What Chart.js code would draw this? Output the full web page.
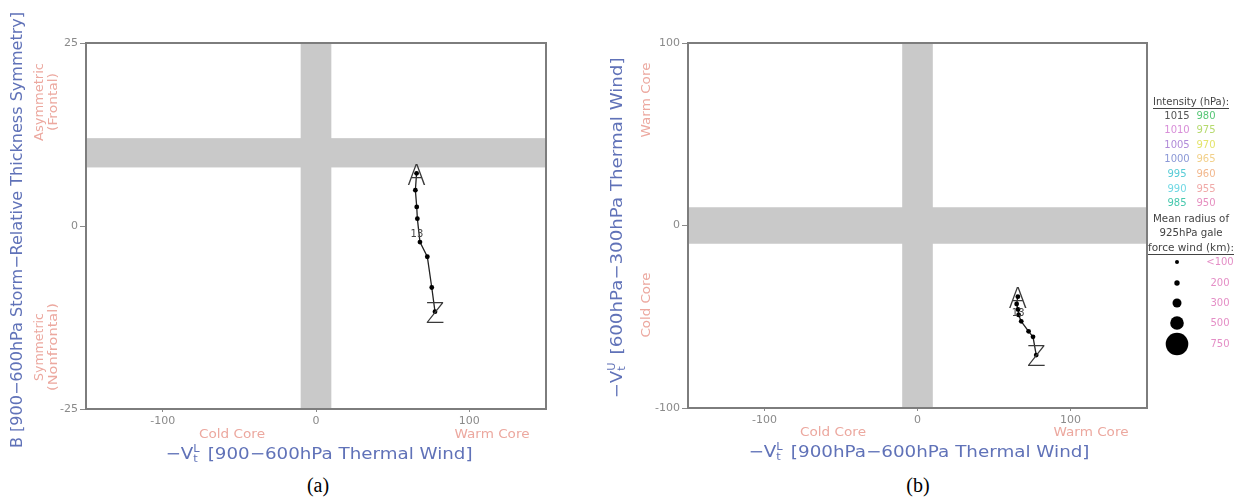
<!DOCTYPE html>
<html>
<head>
<meta charset="utf-8">
<script src="https://cdn.jsdelivr.net/npm/chart.js@4.4.1/dist/chart.umd.min.js"></script>
<style>
html,body{margin:0;padding:0;background:#fff;}
#wrap{position:relative;width:1241px;height:502px;overflow:hidden;}
#ca{position:absolute;left:0;top:0;}
#cb{position:absolute;left:600px;top:0;}
.cap{position:absolute;top:474px;line-height:24px;font:20px "Liberation Serif",serif;color:#000;transform:translateX(-50%);}
</style>
</head>
<body>
<div id="wrap">
  <canvas id="ca" width="600" height="470"></canvas>
  <canvas id="cb" width="641" height="470"></canvas>
  <div class="cap" style="left:318px">(a)</div>
  <div class="cap" style="left:918px">(b)</div>
</div>
<script>
// track values (A = first point, Z = last)
const vtLower = [65.6, 64.8, 65.7, 66.1, 67.8, 72.6, 75.5, 77.6];
const bSym    = [7.2, 4.9, 2.6, 1.0, -2.2, -4.2, -8.4, -11.7];
const vtUpper = [-39, -43, -46, -49, -52.5, -58, -61, -71];
const trackMarks = ['A', '', '', '', '13', '', '', 'Z'];

const xTicks = [-100, 0, 100];
const bTicks = [-25, 0, 25];
const uTicks = [-100, 0, 100];

// shaded threshold bands
const xBand = [-10, 10];
const bBand = [8, 12];
const uBand = [-10, 10];

// legend
const intensLeft  = ['1015', '1010', '1005', '1000', '995', '990', '985'];
const intensRight = ['980', '975', '970', '965', '960', '955', '950'];
const radiusLabels = ['<100', '200', '300', '500', '750'];

const BLUE = '#6072b8';
const SALMON = '#eca89f';
const TICK = '#8a8a8a';

function txt(ctx, s, x, y, o) {
    ctx.save();
    ctx.translate(x, y);
    if (o.rot) ctx.rotate(-Math.PI / 2);
    ctx.font = o.font;
    ctx.fillStyle = o.color;
    ctx.textAlign = o.align || 'center';
    ctx.textBaseline = 'middle';
    if (o.w) {
        const m = ctx.measureText(s).width;
        ctx.scale(o.w / m, 1);
    }
    ctx.fillText(s, 0, 0);
    ctx.restore();
}

// "-V_t^X [....]" axis title
function vtTitle(ctx, sup, rest, x, y, w, rot) {
    const big = '16px "DejaVu Sans"', small = '10px "DejaVu Sans"';
    ctx.save();
    ctx.translate(x, y);
    if (rot) ctx.rotate(-Math.PI / 2);
    ctx.font = big;
    const w1 = ctx.measureText('\u2212V').width;
    const w3 = ctx.measureText(rest).width;
    ctx.font = small;
    const w2 = Math.max(ctx.measureText('t').width, ctx.measureText(sup).width) + 2;
    const tot = w1 + w2 + w3;
    ctx.scale(w / tot, 1);
    ctx.fillStyle = BLUE;
    ctx.textAlign = 'left';
    ctx.textBaseline = 'middle';
    let cx = -tot / 2;
    ctx.font = big; ctx.fillText('\u2212V', cx, 0); cx += w1;
    ctx.font = small; ctx.fillText('t', cx, 4); ctx.fillText(sup, cx, -6); cx += w2;
    ctx.font = big; ctx.fillText(rest, cx, 0);
    ctx.restore();
}

function makeDecor(yBand, drawText) {
    return {
        id: 'decor',
        beforeDatasetsDraw(chart) {
            const {ctx, chartArea: a, scales: {x, y}} = chart;
            ctx.save();
            ctx.fillStyle = '#c9c9c9';
            const x0 = x.getPixelForValue(xBand[0]), x1 = x.getPixelForValue(xBand[1]);
            ctx.fillRect(x0, a.top, x1 - x0, a.bottom - a.top);
            const y0 = y.getPixelForValue(yBand[1]), y1 = y.getPixelForValue(yBand[0]);
            ctx.fillRect(a.left, y0, a.right - a.left, y1 - y0);
            ctx.strokeStyle = '#7d7d7d';
            ctx.lineWidth = 2;
            ctx.strokeRect(a.left, a.top, a.right - a.left, a.bottom - a.top);
            ctx.restore();
        },
        afterDatasetsDraw(chart) {
            const ctx = chart.ctx;
            const pts = chart.getDatasetMeta(0).data;
            trackMarks.forEach((m, i) => {
                if (!m) return;
                const p = pts[i];
                if (m === 'A' || m === 'Z') {
                    txt(ctx, m, p.x, p.y + 4, {font: '200 28px "DejaVu Sans"', color: '#3a3a3a'});
                } else {
                    txt(ctx, m, p.x - 3, p.y - 8, {font: '10px "DejaVu Sans"', color: '#444'});
                }
            });
        },
        afterDraw(chart) {
            drawText(chart.ctx);
        }
    };
}

function xAxis() {
    return {
        type: 'linear', min: -150, max: 150,
        afterBuildTicks: s => { s.ticks = xTicks.map(v => ({value: v})); },
        afterFit: s => { s.height = 30; },
        grid: {drawOnChartArea: false, tickLength: 3, color: TICK},
        border: {display: false},
        ticks: {font: {family: 'DejaVu Sans', size: 11}, color: TICK, padding: 3, maxRotation: 0}
    };
}

function yAxis(min, max, ticks) {
    return {
        type: 'linear', min: min, max: max,
        afterBuildTicks: s => { s.ticks = ticks.map(v => ({value: v})); },
        afterFit: s => { s.width = 40; },
        grid: {drawOnChartArea: false, tickLength: 6, color: TICK},
        border: {display: false},
        ticks: {font: {family: 'DejaVu Sans', size: 11}, color: TICK, padding: 2}
    };
}

function trackSet(ys) {
    return {
        data: vtLower.map((v, i) => ({x: v, y: ys[i]})),
        showLine: true,
        borderColor: '#222',
        borderWidth: 1.3,
        pointRadius: 2.4,
        pointBackgroundColor: '#000',
        pointBorderWidth: 0
    };
}

const baseOpts = {
    responsive: false,
    animation: false,
    plugins: {legend: {display: false}, tooltip: {enabled: false}}
};

// (a) B vs -VTL
new Chart(document.getElementById('ca'), {
    type: 'scatter',
    data: {datasets: [trackSet(bSym)]},
    options: {
        ...baseOpts,
        layout: {padding: {left: 46, right: 54, top: 43, bottom: 31}},
        scales: {x: xAxis(), y: yAxis(-25, 25, bTicks)}
    },
    plugins: [makeDecor(bBand, ctx => {
        txt(ctx, 'B [900\u2212600hPa Storm\u2212Relative Thickness Symmetry]', 18, 230,
            {font: '16px "DejaVu Sans"', color: BLUE, rot: true, w: 436});
        vtTitle(ctx, 'L', ' [900\u2212600hPa Thermal Wind]', 319, 455, 307, false);
        txt(ctx, 'Cold Core', 232, 435, {font: '12px "DejaVu Sans"', color: SALMON, w: 66});
        txt(ctx, 'Warm Core', 492, 435, {font: '12px "DejaVu Sans"', color: SALMON, w: 75});
        txt(ctx, 'Asymmetric', 40, 102, {font: '12px "DejaVu Sans"', color: SALMON, rot: true, w: 78});
        txt(ctx, '(Frontal)', 54, 102, {font: '12px "DejaVu Sans"', color: SALMON, rot: true, w: 58});
        txt(ctx, 'Symmetric', 40, 347, {font: '12px "DejaVu Sans"', color: SALMON, rot: true, w: 68});
        txt(ctx, '(Nonfrontal)', 54, 347, {font: '12px "DejaVu Sans"', color: SALMON, rot: true, w: 88});
    })]
});

// (b) -VTU vs -VTL with legend
const intensColL = ['#555555', '#d88ed8', '#b08ad8', '#8b98d6', '#58ccd6', '#70d8e4', '#48c8ae'];
const intensColR = ['#56c676', '#b6da6e', '#e4e46c', '#f2d08a', '#f2b88e', '#f0aaa8', '#e690c0'];
const radiusPx = [2, 2.7, 4.5, 6.8, 11.3];

new Chart(document.getElementById('cb'), {
    type: 'scatter',
    data: {datasets: [trackSet(vtUpper)]},
    options: {
        ...baseOpts,
        layout: {padding: {left: 48, right: 94, top: 43, bottom: 32}},
        scales: {x: xAxis(), y: yAxis(-100, 100, uTicks)}
    },
    plugins: [makeDecor(uBand, ctx => {
        vtTitle(ctx, 'U', ' [600hPa\u2212300hPa Thermal Wind]', 18, 228, 341, true);
        vtTitle(ctx, 'L', ' [900hPa\u2212600hPa Thermal Wind]', 319, 453, 341, false);
        txt(ctx, 'Cold Core', 233, 433, {font: '12px "DejaVu Sans"', color: SALMON, w: 66});
        txt(ctx, 'Warm Core', 491, 433, {font: '12px "DejaVu Sans"', color: SALMON, w: 75});
        txt(ctx, 'Warm Core', 47, 100, {font: '12px "DejaVu Sans"', color: SALMON, rot: true, w: 75});
        txt(ctx, 'Cold Core', 47, 305, {font: '12px "DejaVu Sans"', color: SALMON, rot: true, w: 65});

        // legend
        const lf = '10px "DejaVu Sans"';
        txt(ctx, 'Intensity (hPa):', 591, 102, {font: lf, color: '#444', w: 76});
        ctx.save();
        ctx.strokeStyle = '#444'; ctx.lineWidth = 1;
        ctx.beginPath(); ctx.moveTo(553, 108.5); ctx.lineTo(629, 108.5); ctx.stroke();
        ctx.restore();
        intensLeft.forEach((s, i) => {
            const yy = 116 + i * 14.6;
            txt(ctx, s, 577, yy, {font: lf, color: intensColL[i]});
            txt(ctx, intensRight[i], 606, yy, {font: lf, color: intensColR[i]});
        });
        txt(ctx, 'Mean radius of', 591, 219, {font: lf, color: '#444', w: 76});
        txt(ctx, '925hPa gale', 591, 233, {font: lf, color: '#444', w: 63});
        txt(ctx, 'force wind (km):', 591, 248, {font: lf, color: '#444', w: 86});
        ctx.save();
        ctx.strokeStyle = '#444'; ctx.lineWidth = 1;
        ctx.beginPath(); ctx.moveTo(548, 254.5); ctx.lineTo(634, 254.5); ctx.stroke();
        ctx.restore();
        radiusLabels.forEach((s, i) => {
            const yy = [262, 283, 303, 323, 344][i];
            ctx.save();
            ctx.fillStyle = '#000';
            ctx.beginPath(); ctx.arc(577, yy, radiusPx[i], 0, Math.PI * 2); ctx.fill();
            ctx.restore();
            txt(ctx, s, 620, yy, {font: lf, color: '#e48ec6'});
        });
    })]
});
</script>
</body>
</html>
